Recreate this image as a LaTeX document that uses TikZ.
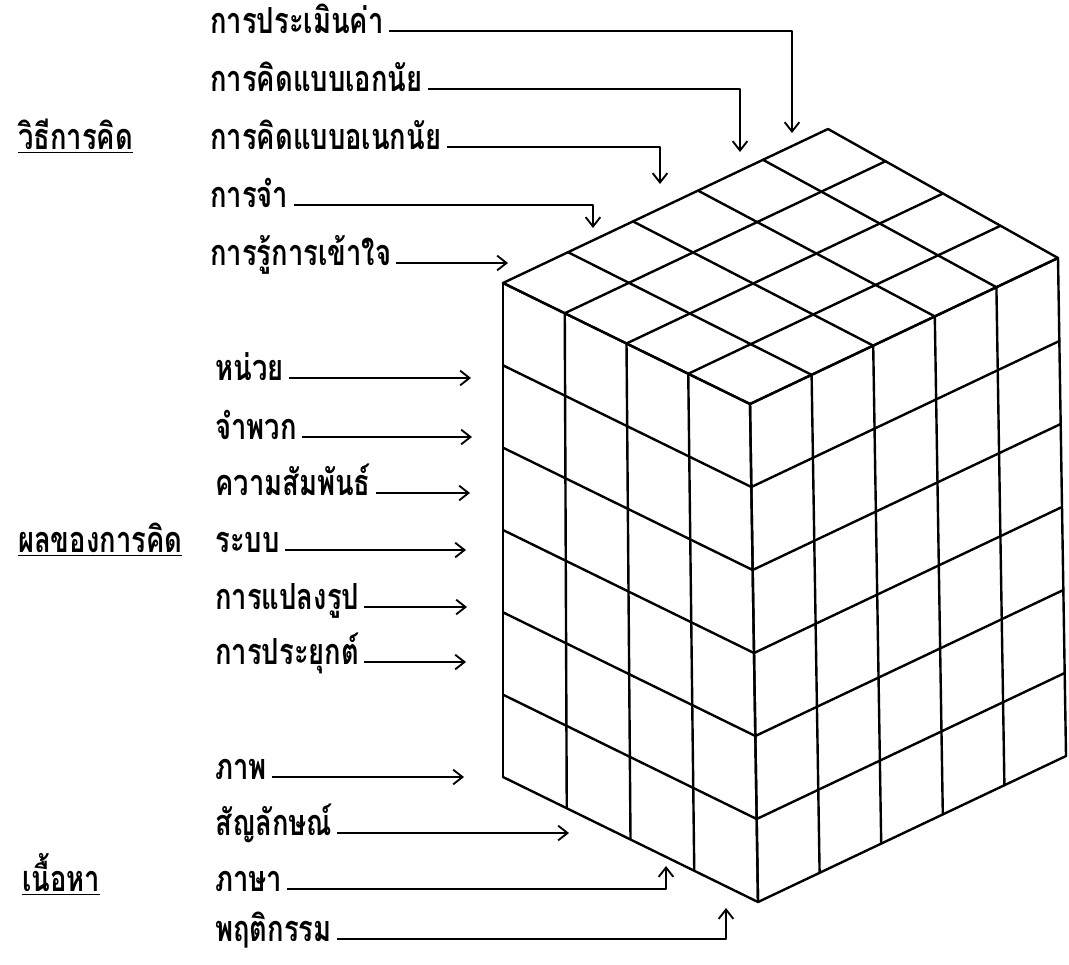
\documentclass[tikz,border=0pt]{standalone}
\usepackage{fontspec}
\newfontfamily\thaifont[Script=Thai,FakeStretch=0.76]{Loma}
\usetikzlibrary{arrows.meta,calc}
\begin{document}
\begin{tikzpicture}[x=0.75pt,y=-0.75pt,
  lab/.style={font=\thaifont\bfseries\fontsize{27}{30}\selectfont, inner sep=0pt, outer xsep=4pt, anchor=mid west},
  cat/.style={font=\thaifont\bfseries\fontsize{27}{30}\selectfont, inner sep=0pt, anchor=mid west},
  conn/.style={line width=1.4pt, line join=round, -{Straight Barb[length=7pt,width=11pt]}},
  cubeline/.style={line width=1.8pt, line cap=round, line join=round}]
\useasboundingbox (0,0) rectangle (1069,964);

% cube corners
\coordinate (L) at (503,283);
\coordinate (F) at (750,404);
\coordinate (B) at (828,129);
\coordinate (R) at (1058,258);
\coordinate (Lb) at (503,777);
\coordinate (Fb) at (758,902);
\coordinate (Rb) at (1066,756);

% top face
\foreach \i in {0,...,5} {\draw[cubeline] ($(L)!\i/5!(B)$) -- ($(F)!\i/5!(R)$);}
\foreach \j in {0,...,4} {\draw[cubeline] ($(L)!\j/4!(F)$) -- ($(B)!\j/4!(R)$);}
% left face
\foreach \j in {0,...,4} {\draw[cubeline] ($(L)!\j/4!(F)$) -- ($(Lb)!\j/4!(Fb)$);}
\foreach \k in {0,...,6} {\draw[cubeline] ($(L)!\k/6!(Lb)$) -- ($(F)!\k/6!(Fb)$);}
% right face
\foreach \i in {0,...,5} {\draw[cubeline] ($(F)!\i/5!(R)$) -- ($(Fb)!\i/5!(Rb)$);}
\foreach \k in {0,...,6} {\draw[cubeline] ($(F)!\k/6!(Fb)$) -- ($(R)!\k/6!(Rb)$);}

% category labels
\node[cat] (catop) at (18,147) {\underline{วิธีการคิด}};
\node[cat] (catpr) at (18,550) {\underline{ผลของการคิด}};
\node[cat] (catco) at (22,889) {\underline{เนื้อหา}};

% operations
\node[lab] (o1) at (205,31) {การประเมินค่า};
\node[lab] (o2) at (205,89) {การคิดแบบเอกนัย};
\node[lab] (o3) at (205,147) {การคิดแบบอเนกนัย};
\node[lab] (o4) at (205,205) {การจำ};
\node[lab] (o5) at (205,263) {การรู้การเข้าใจ};
\coordinate (to1) at (792,133);
\coordinate (to2) at (740,152);
\coordinate (to3) at (660,184);
\coordinate (to4) at (593,228);
\coordinate (to5) at (508,263);
\draw[conn] (o1.mid east) -| (to1);
\draw[conn] (o2.mid east) -| (to2);
\draw[conn] (o3.mid east) -| (to3);
\draw[conn] (o4.mid east) -| (to4);
\draw[conn] (o5.mid east) -- (to5);

% products
\node[lab] (p1) at (210,378) {หน่วย};
\node[lab] (p2) at (210,437) {จำพวก};
\node[lab] (p3) at (210,493) {ความสัมพันธ์};
\node[lab] (p4) at (210,550) {ระบบ};
\node[lab] (p5) at (210,607) {การแปลงรูป};
\node[lab] (p6) at (210,662) {การประยุกต์};
\coordinate (tp1) at (471,378);
\coordinate (tp2) at (472,437);
\coordinate (tp3) at (470,493);
\coordinate (tp4) at (466,550);
\coordinate (tp5) at (467,607);
\coordinate (tp6) at (466,662);
\draw[conn] (p1.mid east) -- (tp1);
\draw[conn] (p2.mid east) -- (tp2);
\draw[conn] (p3.mid east) -- (tp3);
\draw[conn] (p4.mid east) -- (tp4);
\draw[conn] (p5.mid east) -- (tp5);
\draw[conn] (p6.mid east) -- (tp6);

% contents
\node[lab] (c1) at (210,777) {ภาพ};
\node[lab] (c2) at (210,833) {สัญลักษณ์};
\node[lab] (c3) at (210,889) {ภาษา};
\node[lab] (c4) at (210,939) {พฤติกรรม};
\coordinate (tc1) at (464,777);
\coordinate (tc2) at (569,833);
\coordinate (tc3) at (666,866);
\coordinate (tc4) at (726,908);
\draw[conn] (c1.mid east) -- (tc1);
\draw[conn] (c2.mid east) -- (tc2);
\draw[conn] (c3.mid east) -| (tc3);
\draw[conn] (c4.mid east) -| (tc4);
\end{tikzpicture}
\end{document}
